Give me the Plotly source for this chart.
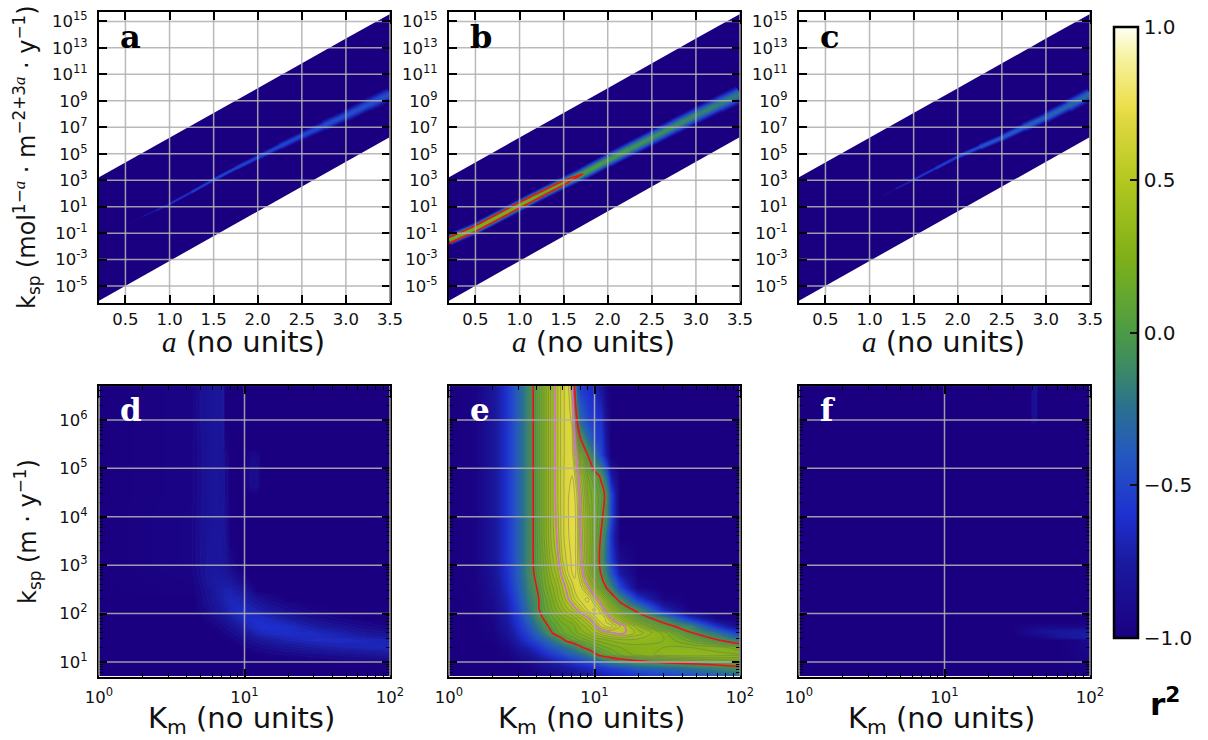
import plotly.graph_objects as go
from plotly.colors import sample_colorscale

W, H = 1208, 740

# ---------- colour scale ----------
r2_scale = [[0.0, "#1a0080"], [0.125, "#1a1aa0"], [0.2, "#1e30d0"], [0.3, "#2458c0"],
            [0.375, "#2a7090"], [0.45, "#3f8c60"], [0.5, "#4c9a45"], [0.575, "#6aaa2a"],
            [0.625, "#80b018"], [0.75, "#b4c820"], [0.85, "#e0d840"], [0.875, "#eee050"],
            [0.95, "#f6f2a0"], [1.0, "#fffff4"]]
cbar_ticks = [-1, -0.5, 0, 0.5, 1]
cbar_labels = ["\u22121.0", "\u22120.5", "0.0", "0.5", "1.0"]
cbar_pink = [0.5, 0.75, 0.9]
red_levels = [0]
e_pink_levels = [0.5]

# ---------- top row: power-law parameter band ----------
band_a = [0.2, 1.0, 2.0, 3.0, 3.5]
band_upper = [3.23, 6.2, 9.95, 13.7, 15.56]
band_lower = [-6.11, -3.1, 0.65, 4.4, 6.26]

a_knots = [0.53, 0.7, 0.85, 1.0, 1.25, 1.5, 1.75, 2.0, 2.25, 2.5, 2.75, 3.0, 3.25, 3.5]
a_logk = [-0.3, 0.28, 0.72, 1.2, 2.1, 3.03, 3.9, 4.72, 5.55, 6.36, 7.12, 7.88, 8.7, 9.5]
a_peak = [-0.97, -0.88, -0.75, -0.65, -0.55, -0.5, -0.5, -0.5, -0.5, -0.5, -0.48, -0.45, -0.45, -0.45]
a_width = [1, 2, 2.5, 3, 3.5, 4, 5, 6, 7, 9, 10, 12, 13, 15]

b_knots = [0.2, 0.5, 0.8, 1.0, 1.2, 1.5, 1.72, 2.0, 2.25, 2.5, 2.75, 3.0, 3.25, 3.5]
b_logk = [-1.5, -0.65, 0.4, 1.1, 1.8, 2.8, 3.5, 4.5, 5.35, 6.2, 7.05, 7.9, 8.7, 9.5]
b_peak = [0.12, 0.2, 0.22, 0.2, 0.15, 0.1, 0.0, -0.03, -0.06, -0.1, -0.12, -0.15, -0.2, -0.2]
b_width = [12, 12, 12, 12, 12, 12, 13, 14, 15, 15, 16, 16, 17, 18]
b_red_a = [0.2, 0.5, 1.0, 1.5, 1.72, 1.5, 1.0, 0.5, 0.2]
b_red_logk = [-1.33, -0.44, 1.33, 2.97, 3.48, 2.64, 0.9, -0.87, -1.76]

c_knots = [1.15, 1.3, 1.5, 1.75, 2.0, 2.25, 2.5, 2.75, 3.0, 3.25, 3.5]
c_logk = [1.8, 2.35, 3.03, 3.9, 4.77, 5.5, 6.2, 7.0, 7.75, 8.6, 9.5]
c_peak = [-0.97, -0.8, -0.6, -0.55, -0.5, -0.45, -0.4, -0.38, -0.35, -0.32, -0.3]
c_width = [1, 2, 3, 3.8, 4.6, 6, 7.5, 9, 10.5, 12.5, 15]

ridge_fraction = [1.0, 0.82, 0.65, 0.48, 0.32, 0.18]
ridge_strength = [0.22, 0.45, 0.65, 0.82, 0.94, 1.0]

# ---------- bottom row: Km / ksp fields ----------
e_km = [1, 1.5, 2, 2.5, 3, 3.5, 4, 4.5, 5, 5.5, 6, 6.5, 7, 7.3, 7.6, 8, 9, 10, 11, 12, 13, 15, 20, 30, 45, 70, 100]
e_ksp = [5, 7.5, 10, 14, 20, 28, 40, 55, 80, 120, 200, 350, 700, 1500, 4000, 1e4, 3e4, 7e4, 2e5, 4.3e5, 1e6, 5e6]
e_r2 = [
 [-1,-1,-1,-1,-1,-1,-1,-.99,-.97,-.95,-.93,-.91,-.88,-.86,-.84,-.83,-.81,-.8,-.76,-.73,-.71,-.7,-.62,-.55,-.5,-.42,-.35],
 [-1,-1,-1,-1,-1,-.98,-.92,-.88,-.85,-.82,-.8,-.77,-.75,-.73,-.71,-.7,-.66,-.62,-.58,-.55,-.52,-.48,-.38,-.33,-.25,-.15,-.05],
 [-1,-1,-1,-1,-.97,-.92,-.85,-.8,-.75,-.71,-.68,-.64,-.6,-.58,-.56,-.55,-.5,-.43,-.35,-.28,-.22,-.14,-.05,.04,.1,.15,.17],
 [-1,-1,-1,-.98,-.9,-.82,-.73,-.65,-.58,-.52,-.48,-.42,-.38,-.36,-.34,-.3,-.2,-.05,.05,.1,.14,.2,.27,.32,.33,.32,.3],
 [-1,-1,-1,-.95,-.8,-.7,-.6,-.5,-.42,-.36,-.3,-.24,-.18,-.13,-.08,-.03,.07,.13,.17,.2,.22,.25,.28,.3,.3,.27,.22],
 [-1,-1,-.98,-.88,-.72,-.58,-.46,-.36,-.25,-.15,-.05,.05,.1,.12,.14,.16,.2,.25,.27,.29,.31,.33,.33,.3,.18,.02,-.2],
 [-1,-1,-.97,-.82,-.65,-.5,-.33,-.18,-.03,.08,.14,.18,.2,.22,.25,.27,.32,.38,.43,.47,.49,.53,.43,.28,.02,-.22,-.55],
 [-1,-1,-.95,-.78,-.6,-.42,-.22,-.08,.05,.12,.17,.2,.22,.25,.28,.32,.38,.47,.6,.66,.68,.55,.35,.08,-.12,-.6,-.9],
 [-1,-1,-.93,-.75,-.55,-.33,-.12,.02,.12,.18,.24,.28,.31,.34,.36,.4,.49,.62,.7,.64,.5,.35,.12,-.12,-.6,-.95,-1],
 [-1,-.99,-.9,-.72,-.5,-.25,-.05,.09,.18,.26,.33,.39,.43,.47,.5,.56,.66,.72,.62,.45,.33,.17,-.07,-.65,-1,-1,-1],
 [-1,-.99,-.88,-.68,-.45,-.2,-.05,.12,.22,.32,.4,.48,.56,.6,.64,.67,.72,.57,.42,.27,.15,-.08,-.55,-.95,-1,-1,-1],
 [-1,-.98,-.85,-.63,-.4,-.15,0,.17,.27,.35,.45,.53,.62,.67,.7,.67,.51,.3,.13,0,-.15,-.5,-.95,-1,-1,-1,-1],
 [-1,-.97,-.82,-.6,-.36,-.12,.06,.2,.33,.42,.53,.64,.7,.72,.67,.58,.35,.15,0,-.15,-.4,-.75,-1,-1,-1,-1,-1],
 [-1,-.97,-.8,-.58,-.35,-.12,.08,.22,.37,.46,.6,.67,.71,.72,.66,.54,.3,.13,-.03,-.3,-.55,-.9,-1,-1,-1,-1,-1],
 [-1,-.97,-.8,-.58,-.35,-.12,.08,.25,.4,.5,.63,.69,.72,.72,.66,.51,.3,.15,0,-.25,-.6,-1,-1,-1,-1,-1,-1],
 [-1,-.97,-.8,-.58,-.35,-.12,.08,.25,.4,.52,.63,.69,.73,.72,.66,.49,.3,.15,.05,-.08,-.5,-1,-1,-1,-1,-1,-1],
 [-1,-.97,-.8,-.58,-.35,-.12,.08,.25,.4,.53,.63,.69,.72,.7,.64,.48,.25,.15,.07,-.03,-.5,-1,-1,-1,-1,-1,-1],
 [-1,-.97,-.8,-.58,-.35,-.12,.08,.25,.4,.53,.63,.69,.7,.66,.55,.42,.2,.08,-.02,-.3,-.75,-1,-1,-1,-1,-1,-1],
 [-1,-.97,-.8,-.58,-.35,-.12,.08,.25,.4,.53,.63,.68,.68,.55,.45,.25,-.02,-.3,-.5,-.75,-1,-1,-1,-1,-1,-1,-1],
 [-1,-.97,-.8,-.58,-.35,-.12,.08,.25,.4,.53,.63,.68,.67,.51,.3,0,-.3,-.5,-.55,-.8,-1,-1,-1,-1,-1,-1,-1],
 [-1,-.97,-.8,-.58,-.35,-.12,.08,.25,.4,.53,.63,.68,.64,.45,-.02,-.3,-.5,-.55,-.6,-.85,-1,-1,-1,-1,-1,-1,-1],
 [-1,-.97,-.8,-.58,-.35,-.12,.08,.25,.4,.53,.63,.68,.56,0,-.45,-.55,-.62,-.7,-.8,-.95,-1,-1,-1,-1,-1,-1,-1],
]

d_km = [1, 4.4, 5, 5.5, 6, 6.5, 7, 7.3, 8, 9, 10, 11, 12, 13, 15, 20, 30, 45, 70, 100]
d_ksp = [5, 10, 14, 20, 28, 40, 55, 80, 120, 200, 300, 500, 1e3, 3e3, 1e4, 3e4, 4.2e4, 8e4, 2e5, 2.6e5, 1e6, 5e6]
d_r2 = [
 [-1,-1,-1,-1,-1,-1,-1,-1,-1,-1,-1,-1,-1,-1,-1,-1,-1,-1,-1,-1],
 [-1,-1,-1,-1,-1,-1,-1,-1,-1,-1,-1,-1,-1,-1,-1,-1,-1,-1,-1,-.98],
 [-1,-1,-1,-1,-1,-1,-1,-1,-1,-1,-1,-1,-1,-1,-.98,-.96,-.93,-.89,-.85,-.82],
 [-1,-1,-1,-1,-1,-1,-1,-1,-1,-1,-.97,-.95,-.93,-.91,-.88,-.83,-.76,-.71,-.68,-.66],
 [-1,-1,-1,-1,-1,-1,-1,-1,-.98,-.95,-.9,-.87,-.83,-.8,-.76,-.7,-.65,-.64,-.66,-.7],
 [-1,-1,-1,-1,-1,-1,-.97,-.95,-.92,-.86,-.8,-.75,-.7,-.67,-.64,-.62,-.64,-.7,-.8,-.85],
 [-1,-1,-1,-1,-.98,-.95,-.92,-.9,-.85,-.77,-.7,-.65,-.62,-.6,-.6,-.63,-.74,-.84,-.92,-.97],
 [-1,-1,-1,-.96,-.92,-.88,-.84,-.81,-.75,-.68,-.63,-.62,-.62,-.63,-.66,-.75,-.88,-.96,-1,-1],
 [-1,-1,-.95,-.9,-.85,-.8,-.76,-.73,-.68,-.64,-.65,-.68,-.7,-.73,-.78,-.88,-.97,-1,-1,-1],
 [-1,-1,-.93,-.86,-.8,-.76,-.72,-.7,-.67,-.68,-.72,-.77,-.82,-.85,-.92,-1,-1,-1,-1,-1],
 [-1,-.98,-.92,-.84,-.8,-.75,-.72,-.7,-.7,-.75,-.8,-.9,-1,-1,-1,-1,-1,-1,-1,-1],
 [-1,-.97,-.88,-.8,-.76,-.75,-.75,-.76,-.78,-.87,-.95,-1,-1,-1,-1,-1,-1,-1,-1,-1],
 [-1,-.95,-.85,-.8,-.78,-.78,-.8,-.82,-.9,-1,-1,-1,-1,-1,-1,-1,-1,-1,-1,-1],
 [-1,-.95,-.85,-.81,-.8,-.8,-.8,-.85,-1,-1,-1,-1,-1,-1,-1,-1,-1,-1,-1,-1],
 [-1,-.95,-.86,-.82,-.8,-.8,-.8,-.87,-1,-1,-1,-1,-1,-1,-1,-1,-1,-1,-1,-1],
 [-1,-.96,-.87,-.83,-.8,-.8,-.82,-.9,-1,-1,-1,-1,-1,-1,-1,-1,-1,-1,-1,-1],
 [-1,-.96,-.87,-.83,-.8,-.8,-.82,-.9,-1,-1,-1,-.9,-.9,-1,-1,-1,-1,-1,-1,-1],
 [-1,-.96,-.87,-.83,-.8,-.8,-.82,-.9,-1,-1,-1,-.88,-.88,-1,-1,-1,-1,-1,-1,-1],
 [-1,-.96,-.87,-.83,-.8,-.8,-.82,-.92,-1,-1,-1,-.92,-.92,-1,-1,-1,-1,-1,-1,-1],
 [-1,-.96,-.87,-.83,-.8,-.8,-.82,-.95,-1,-1,-1,-1,-1,-1,-1,-1,-1,-1,-1,-1],
 [-1,-.96,-.85,-.82,-.8,-.8,-.8,-1,-1,-1,-1,-1,-1,-1,-1,-1,-1,-1,-1,-1],
 [-1,-.96,-.85,-.82,-.8,-.8,-.8,-1,-1,-1,-1,-1,-1,-1,-1,-1,-1,-1,-1,-1],
]

f_km = [1, 28, 32, 37, 38.5, 40, 42.5, 44, 50, 60, 75, 100]
f_ksp = [5, 28, 33, 43, 52, 70, 8e5, 1.05e6, 5e6]
f_r2 = [
 [-1,-1,-1,-1,-1,-1,-1,-1,-1,-1,-1,-1],
 [-1,-1,-1,-1,-1,-1,-1,-1,-1,-1,-.97,-.9],
 [-1,-1,-1,-.98,-.97,-.96,-.95,-.95,-.9,-.82,-.76,-.72],
 [-1,-1,-.96,-.9,-.88,-.87,-.85,-.84,-.8,-.78,-.76,-.74],
 [-1,-1,-.97,-.93,-.92,-.92,-.9,-.9,-.9,-.9,-.9,-.9],
 [-1,-1,-1,-1,-1,-1,-1,-1,-1,-1,-1,-1],
 [-1,-1,-1,-1,-1,-1,-1,-1,-1,-1,-1,-1],
 [-1,-1,-1,-1,-1,-.85,-.85,-1,-1,-1,-1,-1],
 [-1,-1,-1,-1,-1,-.85,-.85,-1,-1,-1,-1,-1],
]

# ---------- ticks, labels ----------
top_xticks = [0.5, 1.0, 1.5, 2.0, 2.5, 3.0, 3.5]
top_xlabels = ["0.5", "1.0", "1.5", "2.0", "2.5", "3.0", "3.5"]
top_yexp = [-5, -3, -1, 1, 3, 5, 7, 9, 11, 13, 15]
bot_xexp = [0, 1, 2]
bot_yexp = [1, 2, 3, 4, 5, 6]
minor_mult = [2, 3, 4, 5, 6, 7, 8, 9]

PX_TOP = [(99, 390), (449, 740), (799, 1090)]
TOP_Y = (12, 302.5)
BOT_Y = (386, 676.5)
TOP_LABELS = ["a", "b", "c"]
BOT_LABELS = ["d", "e", "f"]
SANS = "DejaVu Sans"
SERIF_MATH = "Liberation Serif"

def colour(v):
    return sample_colorscale(r2_scale, [(max(-1, min(1, v)) + 1) / 2])[0]

fig = go.Figure()
layout_axes = {}
GRID = "rgba(176,176,176,0.88)"

def add_axes(i, xpx, ypx, xtype, xrange, ytype, yrange, xt, xl, yt, yl, minor, x_standoff):
    base = dict(showline=True, linecolor="black", linewidth=2, mirror="allticks",
                ticks="inside", ticklen=8, tickwidth=2, tickcolor="black",
                showgrid=False, zeroline=False, tickmode="array",
                tickfont=dict(family=SANS, size=16.5, color="#111"))
    xa = dict(base, domain=[xpx[0] / W, xpx[1] / W], type=xtype, range=xrange, tickvals=xt,
              ticktext=xl, anchor=f"y{i}", ticklabelstandoff=x_standoff)
    ya = dict(base, domain=[1 - ypx[1] / H, 1 - ypx[0] / H], type=ytype, range=yrange, tickvals=yt,
              ticktext=yl, anchor=f"x{i}", ticklabelstandoff=6)
    if minor:
        xa["minor"] = dict(ticks="inside", ticklen=4, tickwidth=1.2, tickcolor="black", showgrid=False,
                           tickvals=[m * 10 ** e for e in bot_xexp[:2] for m in minor_mult])
        ya["minor"] = dict(ticks="inside", ticklen=4, tickwidth=1.2, tickcolor="black", showgrid=False,
                           tickvals=[m * 10 ** e for e in range(0, 7) for m in minor_mult])
    layout_axes[f"xaxis{i}"] = xa
    layout_axes[f"yaxis{i}"] = ya

def add_grid(i, xt, yt, x0, x1, y0, y1):
    for v in xt:
        fig.add_trace(go.Scatter(x=[v, v], y=[y0, y1], mode="lines", line=dict(color=GRID, width=1.5),
                                 xaxis=f"x{i}", yaxis=f"y{i}", showlegend=False, hoverinfo="skip"))
    for v in yt:
        fig.add_trace(go.Scatter(x=[x0, x1], y=[v, v], mode="lines", line=dict(color=GRID, width=1.5),
                                 xaxis=f"x{i}", yaxis=f"y{i}", showlegend=False, hoverinfo="skip"))

def add_ridge(i, knots, logk, peak, width):
    for frac, strength in zip(ridge_fraction, ridge_strength):
        for j in range(len(knots) - 1):
            p = (peak[j] + peak[j + 1]) / 2
            w = (width[j] + width[j + 1]) / 2 * frac
            fig.add_trace(go.Scatter(x=knots[j:j + 2], y=[10 ** v for v in logk[j:j + 2]], mode="lines",
                                     line=dict(color=colour(-1 + (p + 1) * strength), width=w),
                                     xaxis=f"x{i}", yaxis=f"y{i}", showlegend=False, hoverinfo="skip"))

ridges = [(a_knots, a_logk, a_peak, a_width), (b_knots, b_logk, b_peak, b_width), (c_knots, c_logk, c_peak, c_width)]
top_yvals = [10.0 ** e for e in top_yexp]
top_ylabels = [f"10<sup>{e}</sup>" for e in top_yexp]
for n, px in enumerate(PX_TOP):
    i = n + 1
    add_axes(i, px, TOP_Y, "linear", [0.2, 3.5], "log", [-6.24, 15.71], top_xticks, top_xlabels,
             top_yvals, top_ylabels, False, 1)
    poly_x = band_a + band_a[::-1]
    poly_y = [10 ** v for v in band_upper] + [10 ** v for v in band_lower[::-1]]
    fig.add_trace(go.Scatter(x=poly_x, y=poly_y, mode="lines", fill="toself", fillcolor=colour(-1),
                             line=dict(width=0), xaxis=f"x{i}", yaxis=f"y{i}", showlegend=False,
                             hoverinfo="skip"))
    add_ridge(i, *ridges[n])
    if n == 1:
        fig.add_trace(go.Scatter(x=b_red_a, y=[10 ** v for v in b_red_logk], mode="lines",
                                 line=dict(color="#ee1111", width=1.6), xaxis="x2", yaxis="y2",
                                 showlegend=False, hoverinfo="skip"))
    add_grid(i, top_xticks, top_yvals, 0.2, 3.5, 10 ** -6.24, 10 ** 15.71)

fields = [(d_km, d_ksp, d_r2, "rgba(90,110,200,0.12)", -0.95, -0.5),
          (e_km, e_ksp, e_r2, "rgba(105,105,105,0.6)", -0.1, 0.75),
          (f_km, f_ksp, f_r2, None, -1, -0.5)]
bot_xvals = [10.0 ** e for e in bot_xexp]
bot_yvals = [10.0 ** e for e in bot_yexp]
for n, px in enumerate(PX_TOP):
    i = n + 4
    km, ksp, z, gridcol, lo, hi = fields[n]
    add_axes(i, px, BOT_Y, "log", [0, 2], "log", [0.7, 6.7], bot_xvals,
             [f"10<sup>{e}</sup>" for e in bot_xexp], bot_yvals,
             [f"10<sup>{e}</sup>" if n == 0 else "" for e in bot_yexp], True, 5)
    fig.add_trace(go.Contour(x=km, y=ksp, z=z, coloraxis="coloraxis", autocontour=False,
                             contours=dict(coloring="heatmap", showlines=False, start=-1, end=1, size=0.05),
                             line=dict(width=0), xaxis=f"x{i}", yaxis=f"y{i}", hoverinfo="skip"))
    if gridcol is not None:
        fig.add_trace(go.Contour(x=km, y=ksp, z=z, showscale=False, autocontour=False,
                                 contours=dict(coloring="none", start=lo, end=hi, size=0.05),
                                 line=dict(color=gridcol, width=0.7), xaxis=f"x{i}", yaxis=f"y{i}",
                                 hoverinfo="skip"))
    if n == 1:
        for lev, col in [(v, "#ee1111") for v in red_levels] + [(v, "#d070d0") for v in e_pink_levels]:
            fig.add_trace(go.Contour(x=km, y=ksp, z=z, showscale=False, autocontour=False,
                                     contours=dict(coloring="none", start=lev, end=lev, size=1),
                                     line=dict(color=col, width=1.6), xaxis=f"x{i}", yaxis=f"y{i}",
                                     hoverinfo="skip"))
    add_grid(i, bot_xvals, bot_yvals, 1, 100, 10 ** 0.7, 10 ** 6.7)

# ---------- colour bar and overlays ----------
CB_X = (1114, 1138)
CB_Y = (27, 638)
coloraxis = dict(cmin=-1, cmax=1, colorscale=r2_scale,
                 colorbar=dict(x=CB_X[0] / W, xanchor="left", y=1 - CB_Y[0] / H, yanchor="top",
                               thickness=CB_X[1] - CB_X[0], thicknessmode="pixels",
                               len=CB_Y[1] - CB_Y[0], lenmode="pixels", xpad=0, ypad=0,
                               outlinewidth=2.5, outlinecolor="black",
                               tickmode="array", tickvals=cbar_ticks, ticktext=cbar_labels,
                               ticks="inside", ticklen=9, tickwidth=1.5, tickcolor="#111",
                               tickfont=dict(family=SANS, size=20, color="#111")))

def cb_y(level):
    frac_down = (1 - level) / 2
    return 1 - (CB_Y[0] + frac_down * (CB_Y[1] - CB_Y[0])) / H

shapes = []
for lev, col in [(v, "#ee1111") for v in red_levels] + [(v, "#d070d0") for v in cbar_pink]:
    shapes.append(dict(type="line", xref="paper", yref="paper", x0=CB_X[0] / W, x1=CB_X[1] / W,
                       y0=cb_y(lev), y1=cb_y(lev), line=dict(color=col, width=2)))
for n, px in enumerate(PX_TOP):
    for ypx, idx in ((TOP_Y, n + 1), (BOT_Y, n + 4)):
        xs = [px[1]] if idx <= 3 else [px[0], px[1]]
        for xp in xs:
            shapes.append(dict(type="line", xref="paper", yref="paper", x0=xp / W, x1=xp / W,
                               y0=1 - (ypx[1] - 1) / H, y1=1 - (ypx[0] + 12) / H,
                               line=dict(color="#8c8c8c", width=1.5)))

def note(text, xpx, ypx, size, color="#111", family=SANS, angle=0, xanchor="center"):
    return dict(text=text, x=xpx / W, y=1 - ypx / H, xref="paper", yref="paper", showarrow=False,
                xanchor=xanchor, yanchor="middle", textangle=angle,
                font=dict(family=family, size=size, color=color))

a_math = f'<span style="font-family:{SERIF_MATH};font-style:italic">a</span>'
annotations = []
for n, px in enumerate(PX_TOP):
    annotations.append(note(f"<b>{TOP_LABELS[n]}</b>", px[0] + 19, 37, 32, "black", "DejaVu Serif", xanchor="left"))
    annotations.append(note(f"<b>{BOT_LABELS[n]}</b>", px[0] + 19, 410, 31, "white", "DejaVu Serif", xanchor="left"))
    annotations.append(note(f"{a_math} (no units)", (px[0] + px[1]) / 2 - 1, 342, 29))
    annotations.append(note("K<sub>m</sub> (no units)", (px[0] + px[1]) / 2 - 3, 720, 29))
annotations.append(note(f"k<sub>sp</sub> (mol<sup>1\u2212{a_math}</sup> \u00b7 m<sup>\u22122+3{a_math}</sup> \u00b7 y<sup>\u22121</sup>)",
                        27, 157, 24, angle=-90))
annotations.append(note("k<sub>sp</sub> (m \u00b7 y<sup>\u22121</sup>)", 27, 532, 24, angle=-90))
annotations.append(note("<b>r<sup>2</sup></b>", 1165, 702, 31, "black"))

fig.update_layout(width=W, height=H, autosize=False,
                  margin=dict(l=0, r=0, t=0, b=0, autoexpand=False),
                  paper_bgcolor="white", plot_bgcolor="white", showlegend=False,
                  coloraxis=coloraxis, shapes=shapes, annotations=annotations, **layout_axes)

fig.write_html("out.html", config={"displayModeBar": False},
               post_script="document.body.style.margin='0';")
